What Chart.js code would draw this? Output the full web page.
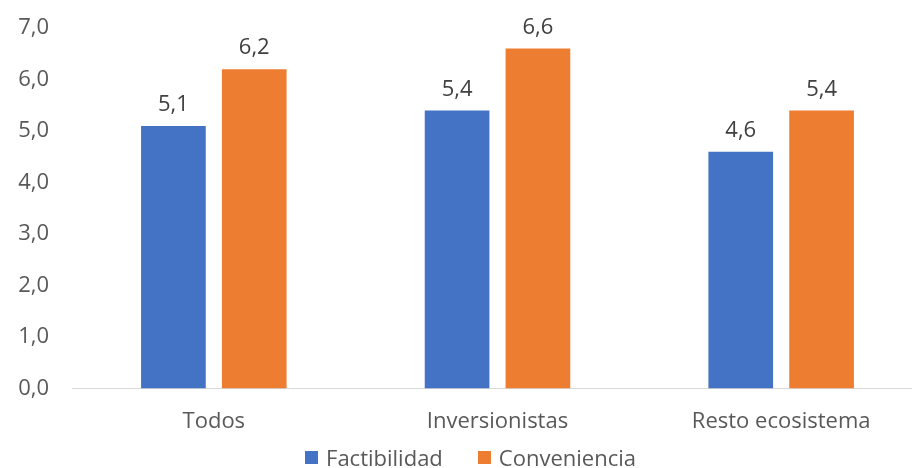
<!DOCTYPE html>
<html>
<head>
<meta charset="utf-8">
<script src="https://cdn.jsdelivr.net/npm/chart.js@4"></script>
<style>
  html, body { margin: 0; padding: 0; background: #fff; }
  #marco { position: relative; width: 912px; height: 468px; overflow: hidden; }
  #leyenda {
    position: absolute; left: 0; top: 445px; width: 941px; height: 24px;
    display: flex; justify-content: center; gap: 35px;
    font-family: 'Open Sans', sans-serif; font-size: 22px; line-height: 24px; color: #595959;
  }
  #leyenda span.item { display: flex; align-items: center; white-space: nowrap; }
  #leyenda span.caja { display: inline-block; width: 13px; height: 13px; margin-right: 8px; }
</style>
</head>
<body>
<div id="marco">
  <canvas id="grafico" width="940" height="468"></canvas>
  <div id="leyenda"></div>
</div>
<script>
const categorias = ["Todos", "Inversionistas", "Resto ecosistema"];
const factibilidad = [5.1, 5.4, 4.6];
const conveniencia = [6.2, 6.6, 5.4];
const ticksY = [0, 1, 2, 3, 4, 5, 6, 7];

const fuente = "'Open Sans', sans-serif";
const tam = 22;

function formatear(v) {
  return v.toFixed(1).replace(".", ",");
}

// etiquetas de valor encima de cada barra
const etiquetasValor = {
  id: "etiquetasValor",
  afterDatasetsDraw(chart) {
    const ctx = chart.ctx;
    ctx.save();
    ctx.font = tam + "px " + fuente;
    ctx.fillStyle = "#404040";
    ctx.textAlign = "center";
    ctx.textBaseline = "middle";
    chart.data.datasets.forEach((ds, i) => {
      chart.getDatasetMeta(i).data.forEach((bar, j) => {
        ctx.fillText(formatear(ds.data[j]), bar.x, bar.y - 21);
      });
    });
    ctx.restore();
  }
};

// leyenda en html, armada con los datasets del grafico
const leyendaHtml = {
  id: "leyendaHtml",
  afterUpdate(chart) {
    const cont = document.getElementById("leyenda");
    cont.innerHTML = "";
    chart.data.datasets.forEach(ds => {
      const item = document.createElement("span");
      item.className = "item";
      const caja = document.createElement("span");
      caja.className = "caja";
      caja.style.background = ds.backgroundColor;
      item.appendChild(caja);
      item.appendChild(document.createTextNode(ds.label));
      cont.appendChild(item);
    });
  }
};

new Chart(document.getElementById("grafico").getContext("2d"), {
  type: "bar",
  data: {
    labels: categorias,
    datasets: [
      { label: "Factibilidad", data: factibilidad, backgroundColor: "#4472C4" },
      { label: "Conveniencia", data: conveniencia, backgroundColor: "#ED7D31" }
    ]
  },
  options: {
    responsive: false,
    animation: false,
    datasets: { bar: { categoryPercentage: 0.57, barPercentage: 0.8 } },
    layout: { padding: { left: 18, right: 17, top: 28, bottom: 13 } },
    plugins: {
      legend: { display: false },
      tooltip: { enabled: false }
    },
    scales: {
      x: {
        grid: { color: "transparent", drawTicks: false },
        border: { color: "#D9D9D9", width: 1 },
        ticks: { font: { family: fuente, size: tam }, color: "#595959", padding: 20 }
      },
      y: {
        min: 0,
        max: 7,
        afterBuildTicks(scale) {
          scale.ticks = ticksY.map(v => ({ value: v }));
        },
        afterFit(scale) {
          scale.width = 54;
          scale.paddingTop = 0;
          scale.paddingBottom = 0;
        },
        grid: { display: false, drawTicks: false },
        border: { display: false },
        ticks: {
          font: { family: fuente, size: tam },
          color: "#595959",
          padding: 23,
          callback: v => formatear(v)
        }
      }
    }
  },
  plugins: [etiquetasValor, leyendaHtml]
});
</script>
</body>
</html>
